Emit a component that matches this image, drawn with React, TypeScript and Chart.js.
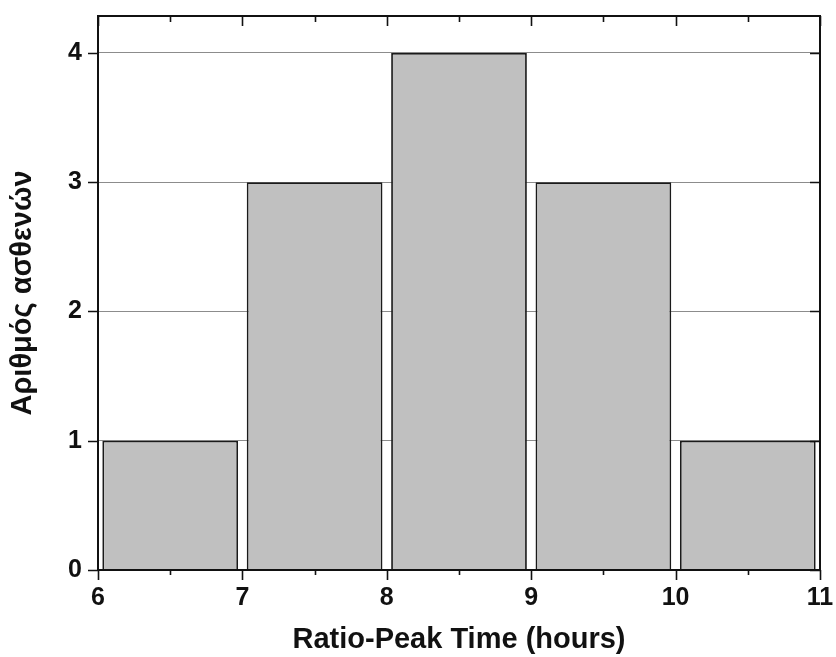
import React, { useEffect, useRef } from "react";
import { Chart, registerables } from "chart.js";

Chart.register(...registerables);

const binStarts = [6, 7, 8, 9, 10];
const counts = [1, 3, 4, 3, 1];
const xTickValues = [6, 7, 8, 9, 10, 11];
const yTickValues = [0, 1, 2, 3, 4];
const xTitle = "Ratio-Peak Time (hours)";
const yTitle = "Αριθμός ασθενών";

const FONT = "'Liberation Sans', Arial, sans-serif";

const framePlugin = {
  id: "framePlugin",
  afterDraw(chart: any) {
    const { ctx, chartArea } = chart;
    const xs = chart.scales.x;
    const ys = chart.scales.y;
    const { left, right, top, bottom } = chartArea;
    ctx.save();
    ctx.strokeStyle = "#111";
    ctx.lineWidth = 2;
    ctx.beginPath();
    ctx.rect(left, top, right - left, bottom - top);
    ctx.stroke();
    ctx.lineWidth = 1.6;
    ctx.beginPath();
    for (let v = xs.min; v <= xs.max + 1e-9; v += 0.5) {
      const px = Math.round(xs.getPixelForValue(v)) + 0.5;
      const major = Math.abs(v - Math.round(v)) < 1e-9;
      const out = major ? 10 : 5;
      const inn = major ? 10 : 6;
      ctx.moveTo(px, bottom);
      ctx.lineTo(px, bottom + out);
      ctx.moveTo(px, top);
      ctx.lineTo(px, top + inn);
    }
    for (const v of yTickValues) {
      const py = Math.round(ys.getPixelForValue(v)) + 0.5;
      ctx.moveTo(left, py);
      ctx.lineTo(left - 10, py);
      ctx.moveTo(right, py);
      ctx.lineTo(right - 10, py);
    }
    ctx.stroke();
    ctx.restore();
  },
};

const zeroPad = (scale: any) => {
  scale.paddingTop = 0;
  scale.paddingBottom = 0;
  scale.paddingLeft = 0;
  scale.paddingRight = 0;
};

export default function App() {
  const ref = useRef<HTMLCanvasElement | null>(null);
  useEffect(() => {
    document.body.style.margin = "0";
    const data = binStarts.map((s, i) => ({ x: s + 0.5, y: counts[i] }));
    const chart = new Chart(ref.current as HTMLCanvasElement, {
      type: "bar",
      data: {
        datasets: [
          {
            data: data as any,
            backgroundColor: "#c0c0c0",
            borderColor: "#1a1a1a",
            borderWidth: 1.8,
            barPercentage: 0.94,
            categoryPercentage: 1,
          },
        ],
      },
      plugins: [framePlugin],
      options: {
        animation: false,
        responsive: false,
        maintainAspectRatio: false,
        layout: { padding: { left: 0, top: 16, right: 16, bottom: 0 } },
        plugins: { legend: { display: false }, tooltip: { enabled: false } },
        scales: {
          x: {
            type: "linear",
            min: 6,
            max: 11,
            offset: false,
            afterBuildTicks: (scale: any) => {
              scale.ticks = xTickValues.map((v) => ({ value: v }));
            },
            afterFit: (scale: any) => {
              scale.height = 87;
              zeroPad(scale);
            },
            grid: { display: false, drawTicks: false, offset: false },
            border: { display: false },
            ticks: {
              padding: 13,
              color: "#111",
              font: { family: FONT, size: 25, weight: "bold" },
              maxRotation: 0,
            },
            title: {
              display: true,
              text: xTitle,
              color: "#111",
              font: { family: FONT, size: 29, weight: "bold" },
              padding: { top: 0, bottom: 0 },
            },
          },
          y: {
            type: "linear",
            min: 0,
            max: 4.286,
            afterBuildTicks: (scale: any) => {
              scale.ticks = yTickValues.map((v) => ({ value: v }));
            },
            afterFit: (scale: any) => {
              scale.width = 98;
              zeroPad(scale);
            },
            grid: { color: "#8c8c8c", lineWidth: 1, drawTicks: false },
            border: { display: false },
            ticks: {
              padding: 16,
              color: "#111",
              font: { family: FONT, size: 25, weight: "bold" },
            },
            title: {
              display: true,
              text: yTitle,
              color: "#111",
              font: { family: FONT, size: 29, weight: "bold" },
              padding: { top: 6, bottom: 0 },
            },
          },
        },
      } as any,
    });
    return () => chart.destroy();
  }, []);
  return (
    <div style={{ width: 836, height: 657, background: "#fff" }}>
      <canvas ref={ref} width={836} height={657} style={{ display: "block" }} />
    </div>
  );
}
